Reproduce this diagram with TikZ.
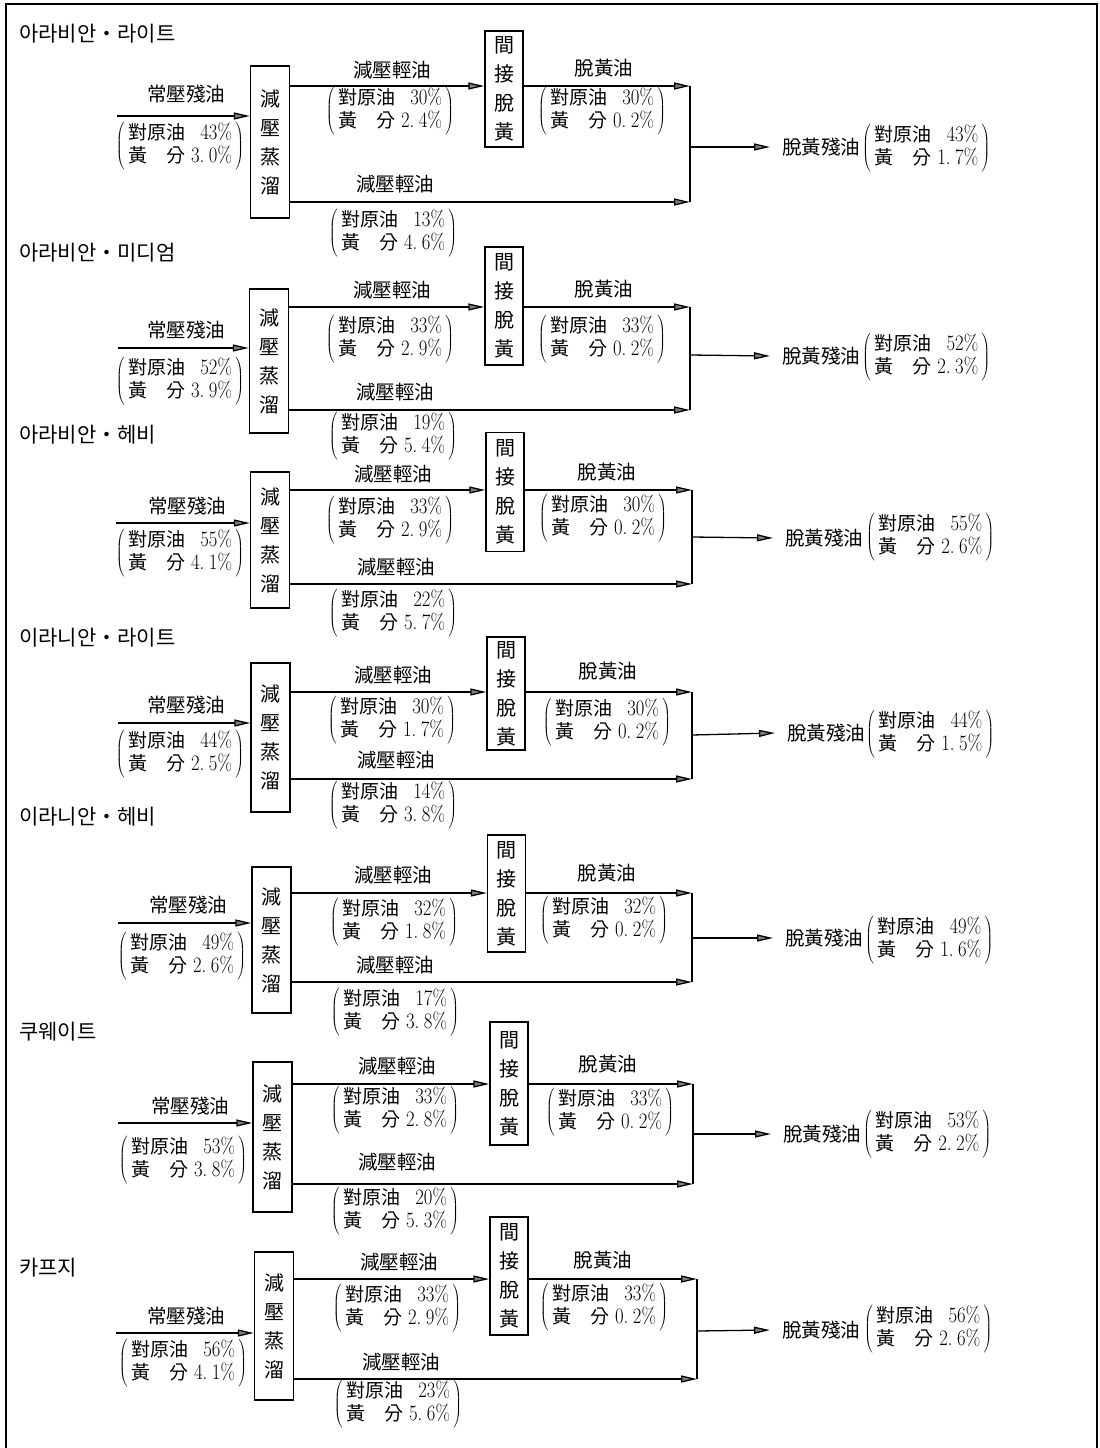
\documentclass[tikz,border=0pt]{standalone}
\usepackage{fontspec}
\usepackage{graphicx}
\usetikzlibrary{arrows.meta}
\newfontfamily\cjk{Noto Sans CJK KR}
\newcommand\cj[1]{{\cjk\fontsize{19}{23}\selectfont #1}}
\newcommand\pd{\makebox[0.5em][l]{.}}
\newcommand\nm[1]{\scalebox{0.85}[1]{\fontsize{22}{23}\selectfont #1\%}}
\newcommand\vals[2]{$\left(\begin{tabular}{@{\,}l@{\hspace{6pt}}r@{\,}}\cj{對原油}&\nm{#1}\\\cj{黃}\hspace{19pt}\cj{分}&\nm{#2}\end{tabular}\right)$}
\newcommand\boxA{減\\壓\\蒸\\溜}
\newcommand\boxB{間\\接\\脫\\黃}
\tikzset{
  dbox/.style={draw, line width=1.4pt, inner sep=0pt, minimum width=39pt, align=center,
    font=\cjk\fontsize{20}{29}\selectfont},
  xbox/.style={draw, line width=1.4pt, inner sep=0pt, minimum width=38pt, align=center,
    font=\cjk\fontsize{20}{29}\selectfont},
  lbl/.style={inner sep=0pt, font=\cjk\fontsize{19.5}{22}\selectfont},
  vl/.style={inner sep=0pt, font=\fontsize{20}{23}\selectfont},
  ttl/.style={anchor=west, inner sep=0pt, font=\cjk\fontsize{21}{24}\selectfont},
  flow/.style={line width=1.3pt, -{Triangle[length=16pt,width=7pt,fill=gray]}},
  plainline/.style={line width=1.3pt},
  frame/.style={line width=2pt}
}
\begin{document}
\begin{tikzpicture}[x=1pt,y=-1pt]
\fill[white] (0,0) rectangle (1100,1448);
\useasboundingbox (0,0) rectangle (1100,1448);
\draw[frame] (6,1448) -- (6,4) -- (1097,4) -- (1097,1448);

% ---------------- Panel 1
\node[ttl] (t1) at (19,34) {아라비안・라이트};
\coordinate (i1) at (117,116);
\node[dbox, minimum height=152pt] (d1) at (270,142) {\boxA};
\node[xbox, minimum height=116pt] (x1) at (504,89) {\boxB};
\coordinate (j1) at (690,86);
\coordinate (k1) at (690,202);
\coordinate (o1) at (690,147);
\node[lbl] (il1) at (186,94) {常壓殘油};
\node[vl] (iv1) at (180,146) {\vals{43}{3\pd0}};
\node[lbl] (tl1) at (392,70) {減壓輕油};
\node[vl] (tv1) at (390,111) {\vals{30}{2\pd4}};
\node[lbl] (rl1) at (604,68) {脫黃油};
\node[vl] (rv1) at (602,111) {\vals{30}{0\pd2}};
\node[lbl] (bl1) at (395,184) {減壓輕油};
\node[vl] (bv1) at (393,233) {\vals{13}{4\pd6}};
\node[lbl, anchor=west] (ol1) at (782,147) {脫黃殘油};
\node[vl, anchor=west] (ov1) at (862,148) {\vals{43}{1\pd7}};
\draw[flow] (i1) -- (i1 -| d1.west);
\draw[flow] (d1.east |- j1) -- (j1 -| x1.west);
\draw[flow] (x1.east |- j1) -- (j1);
\draw[flow] (d1.east |- k1) -- (k1);
\draw[plainline] (j1) -- (k1);
\draw[flow] (o1) -- ([xshift=-12pt]ol1.west);

% ---------------- Panel 2
\node[ttl] (t2) at (19,253) {아라비안・미디엄};
\coordinate (i2) at (118,348);
\node[dbox, minimum height=144pt] (d2) at (269,361) {\boxA};
\node[xbox, minimum height=118pt] (x2) at (504,306) {\boxB};
\coordinate (j2) at (690,307);
\coordinate (k2) at (690,410);
\coordinate (o2) at (690,355);
\node[lbl] (il2) at (186,330) {常壓殘油};
\node[vl] (iv2) at (180,381) {\vals{52}{3\pd9}};
\node[lbl] (tl2) at (392,290) {減壓輕油};
\node[vl] (tv2) at (390,339) {\vals{33}{2\pd9}};
\node[lbl] (rl2) at (604,289) {脫黃油};
\node[vl] (rv2) at (602,339) {\vals{33}{0\pd2}};
\node[lbl] (bl2) at (395,392) {減壓輕油};
\node[vl] (bv2) at (393,436) {\vals{19}{5\pd4}};
\node[lbl, anchor=west] (ol2) at (782,356) {脫黃殘油};
\node[vl, anchor=west] (ov2) at (862,357) {\vals{52}{2\pd3}};
\draw[flow] (i2) -- (i2 -| d2.west);
\draw[flow] (d2.east |- j2) -- (j2 -| x2.west);
\draw[flow] (x2.east |- j2) -- (j2);
\draw[flow] (d2.east |- k2) -- (k2);
\draw[plainline] (j2) -- (k2);
\draw[flow] (o2) -- ([xshift=-12pt]ol2.west);

% ---------------- Panel 3
\node[ttl] (t3) at (19,435) {아라비안・헤비};
\coordinate (i3) at (116,523);
\node[dbox, minimum height=136pt] (d3) at (270,540) {\boxA};
\node[xbox, minimum height=119pt] (x3) at (505,492) {\boxB};
\coordinate (j3) at (692,490);
\coordinate (k3) at (692,584);
\coordinate (o3) at (692,537);
\node[lbl] (il3) at (187,506) {常壓殘油};
\node[vl] (iv3) at (180,553) {\vals{55}{4\pd1}};
\node[lbl] (tl3) at (393,474) {減壓輕油};
\node[vl] (tv3) at (390,520) {\vals{33}{2\pd9}};
\node[lbl] (rl3) at (607,472) {脫黃油};
\node[vl] (rv3) at (603,518) {\vals{30}{0\pd2}};
\node[lbl] (bl3) at (396,567) {減壓輕油};
\node[vl] (bv3) at (393,613) {\vals{22}{5\pd7}};
\node[lbl, anchor=west] (ol3) at (785,538) {脫黃殘油};
\node[vl, anchor=west] (ov3) at (866,537) {\vals{55}{2\pd6}};
\draw[flow] (i3) -- (i3 -| d3.west);
\draw[flow] (d3.east |- j3) -- (j3 -| x3.west);
\draw[flow] (x3.east |- j3) -- (j3);
\draw[flow] (d3.east |- k3) -- (k3);
\draw[plainline] (j3) -- (k3);
\draw[flow] (o3) -- ([xshift=-12pt]ol3.west);

% ---------------- Panel 4
\node[ttl] (t4) at (19,638) {이라니안・라이트};
\coordinate (i4) at (118,723);
\node[dbox, minimum height=149pt] (d4) at (270.5,737.5) {\boxA};
\node[xbox, minimum height=113pt] (x4) at (506,693.5) {\boxB};
\coordinate (j4) at (692,692);
\coordinate (k4) at (692,779);
\coordinate (o4) at (692,735);
\node[lbl] (il4) at (186,705) {常壓殘油};
\node[vl] (iv4) at (180,754) {\vals{44}{2\pd5}};
\node[lbl] (tl4) at (393,675) {減壓輕油};
\node[vl] (tv4) at (392,720) {\vals{30}{1\pd7}};
\node[lbl] (rl4) at (608,671) {脫黃油};
\node[vl] (rv4) at (607,722) {\vals{30}{0\pd2}};
\node[lbl] (bl4) at (396,760) {減壓輕油};
\node[vl] (bv4) at (393,805) {\vals{14}{3\pd8}};
\node[lbl, anchor=west] (ol4) at (787,733) {脫黃殘油};
\node[vl, anchor=west] (ov4) at (866,734) {\vals{44}{1\pd5}};
\draw[flow] (i4) -- (i4 -| d4.west);
\draw[flow] (d4.east |- j4) -- (j4 -| x4.west);
\draw[flow] (x4.east |- j4) -- (j4);
\draw[flow] (d4.east |- k4) -- (k4);
\draw[plainline] (j4) -- (k4);
\draw[flow] (o4) -- ([xshift=-12pt]ol4.west);

% ---------------- Panel 5
\node[ttl] (t5) at (19,817) {이라니안・헤비};
\coordinate (i5) at (118,923);
\node[dbox, minimum height=146pt] (d5) at (271.5,940) {\boxA};
\node[xbox, minimum height=117pt] (x5) at (506.5,893.5) {\boxB};
\coordinate (j5) at (692,893);
\coordinate (k5) at (692,982);
\coordinate (o5) at (692,938);
\node[lbl] (il5) at (188,905) {常壓殘油};
\node[vl] (iv5) at (182,956) {\vals{49}{2\pd6}};
\node[lbl] (tl5) at (393,875) {減壓輕油};
\node[vl] (tv5) at (394,922) {\vals{32}{1\pd8}};
\node[lbl] (rl5) at (607,873) {脫黃油};
\node[vl] (rv5) at (604,920) {\vals{32}{0\pd2}};
\node[lbl] (bl5) at (395,965) {減壓輕油};
\node[vl] (bv5) at (395,1012) {\vals{17}{3\pd8}};
\node[lbl, anchor=west] (ol5) at (785,938) {脫黃殘油};
\node[vl, anchor=west] (ov5) at (865,940) {\vals{49}{1\pd6}};
\draw[flow] (i5) -- (i5 -| d5.west);
\draw[flow] (d5.east |- j5) -- (j5 -| x5.west);
\draw[flow] (x5.east |- j5) -- (j5);
\draw[flow] (d5.east |- k5) -- (k5);
\draw[plainline] (j5) -- (k5);
\draw[flow] (o5) -- ([xshift=-12pt]ol5.west);

% ---------------- Panel 6
\node[ttl] (t6) at (19,1032) {쿠웨이트};
\coordinate (i6) at (118,1123);
\node[dbox, minimum height=150pt] (d6) at (272.5,1137) {\boxA};
\node[xbox, minimum height=123pt] (x6) at (509,1083.5) {\boxB};
\coordinate (j6) at (693,1084);
\coordinate (k6) at (693,1184);
\coordinate (o6) at (693,1134);
\node[lbl] (il6) at (190,1106) {常壓殘油};
\node[vl] (iv6) at (183,1160) {\vals{53}{3\pd8}};
\node[lbl] (tl6) at (397,1066) {減壓輕油};
\node[vl] (tv6) at (395,1110) {\vals{33}{2\pd8}};
\node[lbl] (rl6) at (608,1064) {脫黃油};
\node[vl] (rv6) at (610,1112) {\vals{33}{0\pd2}};
\node[lbl] (bl6) at (397,1162) {減壓輕油};
\node[vl] (bv6) at (395,1211) {\vals{20}{5\pd3}};
\node[lbl, anchor=west] (ol6) at (783,1134) {脫黃殘油};
\node[vl, anchor=west] (ov6) at (863,1134) {\vals{53}{2\pd2}};
\draw[flow] (i6) -- (i6 -| d6.west);
\draw[flow] (d6.east |- j6) -- (j6 -| x6.west);
\draw[flow] (x6.east |- j6) -- (j6);
\draw[flow] (d6.east |- k6) -- (k6);
\draw[plainline] (j6) -- (k6);
\draw[flow] (o6) -- ([xshift=-12pt]ol6.west);

% ---------------- Panel 7
\node[ttl] (t7) at (19,1268) {카프지};
\coordinate (i7) at (116,1333);
\node[dbox, minimum height=148pt] (d7) at (274,1326) {\boxA};
\node[xbox, minimum height=118pt] (x7) at (509,1276) {\boxB};
\coordinate (j7) at (697,1279);
\coordinate (k7) at (697,1379);
\coordinate (o7) at (697,1331);
\node[lbl] (il7) at (186,1316) {常壓殘油};
\node[vl] (iv7) at (183,1363) {\vals{56}{4\pd1}};
\node[lbl] (tl7) at (399,1262) {減壓輕油};
\node[vl] (tv7) at (397,1308) {\vals{33}{2\pd9}};
\node[lbl] (rl7) at (603,1260) {脫黃油};
\node[vl] (rv7) at (604,1307) {\vals{33}{0\pd2}};
\node[lbl] (bl7) at (401,1362) {減壓輕油};
\node[vl] (bv7) at (398,1404) {\vals{23}{5\pd6}};
\node[lbl, anchor=west] (ol7) at (782,1330) {脫黃殘油};
\node[vl, anchor=west] (ov7) at (864,1329) {\vals{56}{2\pd6}};
\draw[flow] (i7) -- (i7 -| d7.west);
\draw[flow] (d7.east |- j7) -- (j7 -| x7.west);
\draw[flow] (x7.east |- j7) -- (j7);
\draw[flow] (d7.east |- k7) -- (k7);
\draw[plainline] (j7) -- (k7);
\draw[flow] (o7) -- ([xshift=-12pt]ol7.west);
\end{tikzpicture}
\end{document}
